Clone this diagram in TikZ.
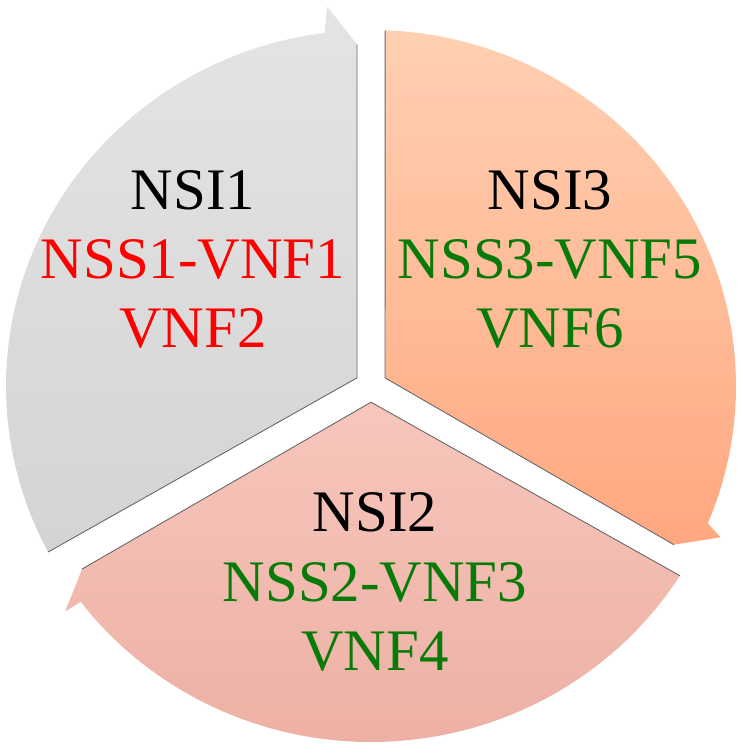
\documentclass[tikz,border=0pt]{standalone}
\usepackage{fontspec}
\setmainfont{Liberation Serif}
\definecolor{nsired}{RGB}{255,0,0}
\definecolor{nsigreen}{RGB}{8,122,8}
\definecolor{greytop}{RGB}{228,228,228}
\definecolor{greybot}{RGB}{212,212,212}
\definecolor{orangetop}{RGB}{255,208,178}
\definecolor{orangebot}{RGB}{255,168,128}
\definecolor{pinktop}{RGB}{247,198,188}
\definecolor{pinkbot}{RGB}{237,176,164}
\begin{document}
\begin{tikzpicture}[x=0.02cm,y=0.02cm,
    rim/.style={draw=black!60, line width=0.5pt},
    label/.style={align=center, inner sep=0pt, font=\fontsize{33.5}{39.3}\selectfont}]
  \useasboundingbox (-371,-368) rectangle (372,386);

  % grey piece, arrow at the top
  \coordinate (g-in) at (150:16.2);
  \coordinate (g-start) at (207.8:365 and 356);
  \coordinate (g-end) at (92.35:342);
  \shade[top color=greytop, bottom color=greybot] (g-in) -- (g-start)
    arc[start angle=207.8, end angle=97.3, x radius=365, y radius=356]
    -- (96.6:382) -- (g-end) -- cycle;
  \draw[rim] (g-start) -- (g-in) -- (g-end);

  % orange piece, arrow at the lower right
  \coordinate (o-in) at (30:16.2);
  \coordinate (o-start) at (87.77:365 and 356);
  \coordinate (o-end) at (-27.65:342);
  \shade[shading angle=30, top color=orangetop, bottom color=orangebot] (o-in) -- (o-start)
    arc[start angle=87.77, end angle=-22.7, x radius=365, y radius=356]
    -- (-23.4:381) -- (o-end) -- cycle;
  \draw[rim] (o-start) -- (o-in) -- (o-end);

  % pink piece, arrow at the lower left
  \coordinate (p-in) at (-90:16.2);
  \coordinate (p-start) at (-32.2:365 and 356);
  \coordinate (p-end) at (-147.65:342);
  \shade[top color=pinktop, bottom color=pinkbot] (p-in) -- (p-start)
    arc[start angle=-32.2, end angle=-142.7, x radius=365, y radius=356]
    -- (-143.6:380) -- (p-end) -- cycle;
  \draw[rim] (p-start) -- (p-in) -- (p-end);

  \node[label] (nsi1) at (-178,126.5)
    {NSI1\\\textcolor{nsired}{NSS1-VNF1}\\\textcolor{nsired}{VNF2}};
  \node[label] (nsi3) at (179,126.5)
    {NSI3\\\textcolor{nsigreen}{NSS3-VNF5}\\\textcolor{nsigreen}{VNF6}};
  \node[label] (nsi2) at (4,-196)
    {NSI2\\\textcolor{nsigreen}{NSS2-VNF3}\\\textcolor{nsigreen}{VNF4}};
\end{tikzpicture}
\end{document}
